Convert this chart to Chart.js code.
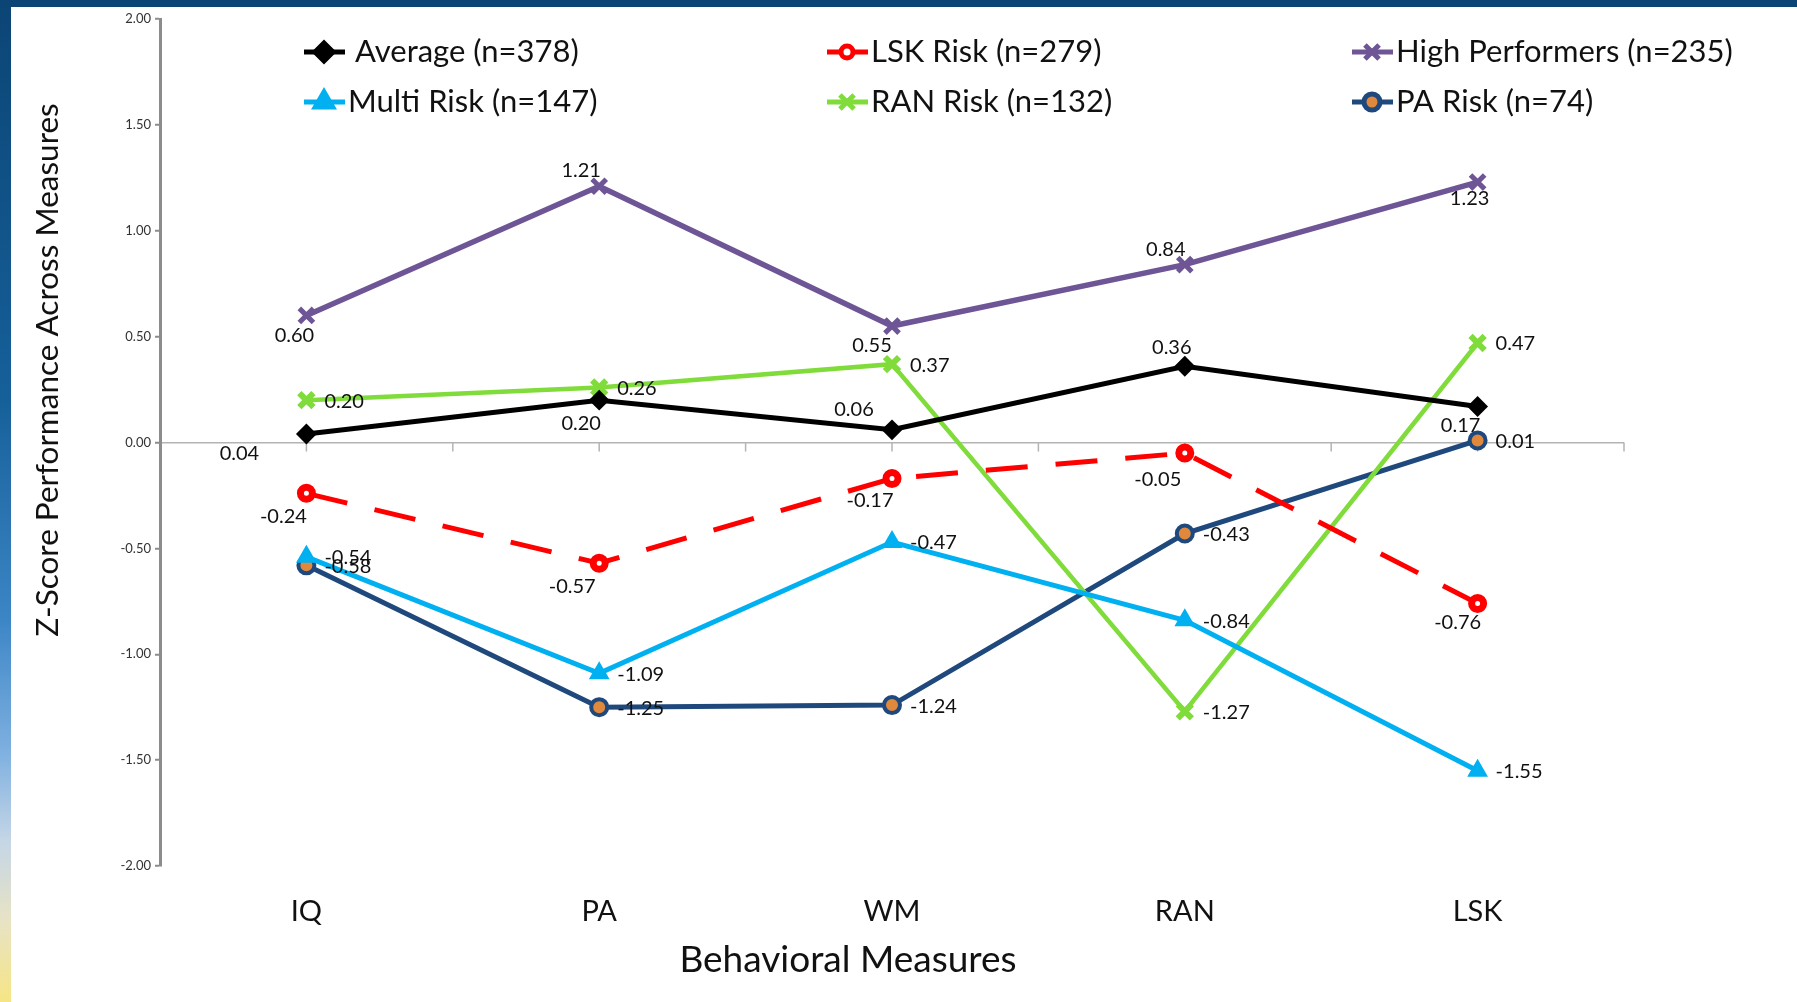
<!DOCTYPE html>
<html>
<head>
<meta charset="utf-8">
<title>Z-Score Performance Across Measures</title>
<script src="https://cdn.jsdelivr.net/npm/chart.js@4.4.0/dist/chart.umd.min.js"></script>
<style>
    html, body { margin: 0; padding: 0; background: #fff; }
    #frame { position: relative; width: 1797px; height: 1002px; overflow: hidden; }
    #topBar { position: absolute; left: 0; top: 0; width: 100%; height: 7px; background: #0b4575; }
    #sideBar {
        position: absolute; left: 0; top: 0; width: 11px; height: 100%;
        background: linear-gradient(to bottom, #0b4575 0%, #16609a 40%, #3d86c6 62%, #7eb0e0 75%, #c5d6e6 84%, #e8e3c4 92%, #f6e585 100%);
    }
    #chartBox { position: absolute; left: 0; top: 0; width: 1797px; height: 1002px; }
</style>
</head>
<body>
<div id="frame">
    <div id="topBar"></div>
    <div id="sideBar"></div>
    <div id="chartBox"><canvas id="zChart"></canvas></div>
</div>
<script>
// Categories and group scores
const measures = ['IQ', 'PA', 'WM', 'RAN', 'LSK'];
const yTicks = [-2, -1.5, -1, -0.5, 0, 0.5, 1, 1.5, 2];

const averageScores = [0.04, 0.20, 0.06, 0.36, 0.17];
const lskRiskScores = [-0.24, -0.57, -0.17, -0.05, -0.76];
const highPerfScores = [0.60, 1.21, 0.55, 0.84, 1.23];
const multiRiskScores = [-0.54, -1.09, -0.47, -0.84, -1.55];
const ranRiskScores = [0.20, 0.26, 0.37, -1.27, 0.47];
const paRiskScores = [-0.58, -1.25, -1.24, -0.43, 0.01];

const FONT = 'Lato, "Open Sans", "Liberation Sans", sans-serif';

// Where each value label sits relative to its point (dx, dy, align)
const R = { dx: 18, dy: 1, align: 'left' };
const labelPlacement = [
    [{ dx: -67, dy: 20 }, { dx: -18, dy: 23 }, { dx: -38, dy: -20 }, { dx: -13, dy: -19 }, { dx: -17, dy: 19 }],
    [{ dx: -23, dy: 23 }, { dx: -27, dy: 23 }, { dx: -22, dy: 22 }, { dx: -27, dy: 26 }, { dx: -20, dy: 19 }],
    [{ dx: -12, dy: 20 }, { dx: -18, dy: -16 }, { dx: -20, dy: 20 }, { dx: -19, dy: -15 }, { dx: -8, dy: 16 }],
    [R, R, R, R, R],
    [R, R, R, R, R],
    [R, R, R, R, R]
];

// Value labels next to each point
const valueLabels = {
    id: 'valueLabels',
    afterDatasetsDraw(chart) {
        const ctx = chart.ctx;
        ctx.save();
        ctx.font = '20px ' + FONT;
        ctx.fillStyle = '#111';
        ctx.textBaseline = 'middle';
        chart.data.datasets.forEach((ds, di) => {
            const meta = chart.getDatasetMeta(di);
            meta.data.forEach((pt, i) => {
                const p = labelPlacement[di][i];
                ctx.textAlign = p.align || 'center';
                ctx.fillText(ds.data[i].toFixed(2), pt.x + p.dx, pt.y + p.dy);
            });
        });
        ctx.restore();
    }
};

// Zero line tick marks (between categories and at each category)
const zeroTicks = {
    id: 'zeroTicks',
    beforeDatasetsDraw(chart) {
        const ctx = chart.ctx;
        const x = chart.scales.x;
        const y0 = chart.scales.y.getPixelForValue(0);
        const step = x.getPixelForValue(1) - x.getPixelForValue(0);
        ctx.save();
        ctx.strokeStyle = '#b4b4b4';
        ctx.lineWidth = 1.5;
        ctx.beginPath();
        measures.forEach((m, i) => {
            const cx = x.getPixelForValue(i);
            ctx.moveTo(cx, y0); ctx.lineTo(cx, y0 + 9);
            ctx.moveTo(cx + step / 2, y0); ctx.lineTo(cx + step / 2, y0 + 9);
        });
        ctx.stroke();
        ctx.restore();
    }
};

// Three column legend and both axis titles
const legendAndTitles = {
    id: 'legendAndTitles',
    afterDraw(chart) {
        const ctx = chart.ctx;
        const cols = [304, 827, 1352];
        const rows = [52, 102];
        ctx.save();
        chart.data.datasets.forEach((ds, i) => {
            const lx = cols[i % 3];
            const ly = rows[Math.floor(i / 3)];
            ctx.strokeStyle = ds.borderColor;
            ctx.lineWidth = 5;
            ctx.setLineDash([]);
            ctx.beginPath();
            ctx.moveTo(lx, ly); ctx.lineTo(lx + 41, ly);
            ctx.stroke();
            ctx.fillStyle = ds.pointBackgroundColor;
            ctx.strokeStyle = ds.pointBorderColor;
            Chart.helpers.drawPoint(ctx, {
                pointStyle: ds.pointStyle,
                radius: ds.pointRadius,
                rotation: 0,
                borderWidth: ds.pointBorderWidth
            }, lx + 20, ly);
            ctx.fillStyle = '#111';
            ctx.font = '31px ' + FONT;
            ctx.textAlign = 'left';
            ctx.textBaseline = 'middle';
            ctx.fillText(ds.label, lx + (i === 0 ? 51 : 44), ly);
        });

        ctx.fillStyle = '#111';
        ctx.font = '37px ' + FONT;
        ctx.textAlign = 'center';
        ctx.textBaseline = 'middle';
        ctx.fillText('Behavioral Measures', 848, 960);

        ctx.font = '31.5px ' + FONT;
        ctx.translate(48, 370);
        ctx.rotate(-Math.PI / 2);
        ctx.fillText('Z-Score Performance Across Measures', 0, 0);
        ctx.restore();
    }
};

const series = (label, data, color, opts) => Object.assign({
    label: label,
    data: data,
    borderColor: color,
    backgroundColor: color,
    pointBackgroundColor: color,
    pointBorderColor: color,
    borderWidth: 5,
    pointBorderWidth: 2,
    pointRadius: 8,
    tension: 0
}, opts);

const datasets = [
    series('Average (n=378)', averageScores, '#000000', { pointStyle: 'rectRot', pointRadius: 9 }),
    series('LSK Risk (n=279)', lskRiskScores, '#ff0000', {
        pointStyle: 'circle', pointRadius: 6, pointBorderWidth: 7,
        pointBackgroundColor: '#ffffff', borderDash: [42, 28]
    }),
    series('High Performers (n=235)', highPerfScores, '#6e5596', { pointStyle: 'crossRot', pointRadius: 10, pointBorderWidth: 5, borderWidth: 5.5 }),
    series('Multi Risk (n=147)', multiRiskScores, '#00b0f0', { pointStyle: 'triangle', pointRadius: 10 }),
    series('RAN Risk (n=132)', ranRiskScores, '#80dc3a', { pointStyle: 'crossRot', pointRadius: 10, pointBorderWidth: 6, borderWidth: 4.5 }),
    series('PA Risk (n=74)', paRiskScores, '#1f497d', {
        pointStyle: 'circle', pointRadius: 8, pointBorderWidth: 4,
        pointBackgroundColor: '#e0883c'
    })
];

new Chart(document.getElementById('zChart'), {
    type: 'line',
    data: { labels: measures, datasets: datasets },
    options: {
        responsive: true,
        maintainAspectRatio: false,
        animation: false,
        layout: { padding: { top: 19, right: 173, left: 0, bottom: 0 } },
        plugins: {
            legend: { display: false },
            tooltip: { enabled: false }
        },
        scales: {
            x: {
                type: 'category',
                offset: true,
                grid: { display: false },
                border: { display: false },
                ticks: { color: '#111', font: { family: FONT, size: 29 }, padding: 20 },
                afterFit: (scale) => { scale.height = 136; }
            },
            y: {
                min: -2,
                max: 2,
                afterBuildTicks: (scale) => { scale.ticks = yTicks.map(v => ({ value: v })); },
                ticks: {
                    color: '#333',
                    font: { family: FONT, size: 13 },
                    padding: 4,
                    callback: (v) => Number(v).toFixed(2)
                },
                border: { display: true, color: '#8c8c8c', width: 3 },
                grid: {
                    drawTicks: true,
                    tickLength: 5,
                    tickColor: '#8c8c8c',
                    tickWidth: 2,
                    color: (c) => (c.tick && c.tick.value === 0 ? '#b4b4b4' : 'rgba(0,0,0,0)'),
                    lineWidth: 1.5
                },
                afterFit: (scale) => { scale.width = 160; }
            }
        }
    },
    plugins: [zeroTicks, valueLabels, legendAndTitles]
});
</script>
</body>
</html>
